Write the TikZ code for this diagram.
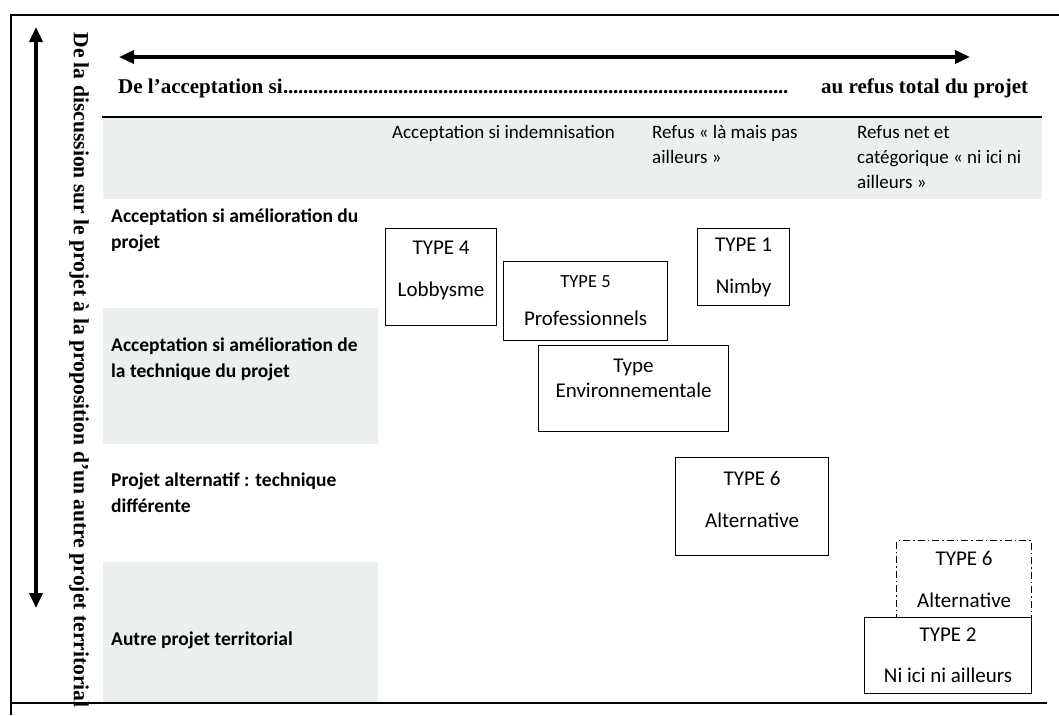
\documentclass[tikz,border=0pt]{standalone}
\usepackage{fontspec}
\setmainfont{Carlito}
\newfontfamily\titlefont{Liberation Serif}
\usetikzlibrary{arrows.meta}
\definecolor{band}{RGB}{236,239,240}
\begin{document}
\begin{tikzpicture}[x=1pt,y=-1pt,
  frameline/.style={line width=1.8pt},
  rule/.style={line width=1.3pt},
  bigarrow/.style={line width=3.6pt,{Triangle[length=15pt,width=13pt]}-{Triangle[length=15pt,width=13pt]}},
  serifb/.style={font=\titlefont\bfseries\fontsize{21}{25}\selectfont,inner sep=0pt},
  rowlab/.style={anchor=base west,align=left,inner sep=0pt,font=\bfseries\fontsize{19.5}{26}\selectfont},
  collab/.style={anchor=base west,align=left,inner sep=0pt,font=\fontsize{19}{25}\selectfont},
  tbox/.style={draw,line width=1.1pt,align=center,inner sep=0pt,anchor=north west,font=\fontsize{21}{24}\selectfont},
  dashbox/.style={tbox,dash pattern=on 7pt off 3pt on 1.5pt off 3pt},
]
\useasboundingbox (0,0) rectangle (1059,715);
% grey bands
\fill[band] (103,118) rectangle (1042,199);
\fill[band] (103,308) rectangle (378,444);
\fill[band] (103,562) rectangle (378,702);
% frame and rules
\draw[frameline] (1059,15) -- (11,15) -- (11,715);
\draw[rule] (102,117) -- (1042,117);
\draw[rule] (11,703) -- (1047,703);
% arrows
\coordinate (vtop) at (36,27);
\coordinate (vbot) at (36,608);
\coordinate (hleft) at (119,57);
\coordinate (hright) at (970,57);
\draw[bigarrow] (vtop) -- (vbot);
\draw[bigarrow] (hleft) -- (hright);
% titles
\node[serifb,anchor=base west] (ttl) at (118,93) {De l’acceptation si};
\node[serifb,anchor=base west] (dots) at (283,93) {\hbox to 505pt{\xleaders\hbox to 5pt{\hss.\hss}\hfill}};
\node[serifb,anchor=base west] (ttr) at (821,93) {au refus total du projet};
\node[serifb,rotate=-90,font=\titlefont\bfseries\fontsize{21.6}{25}\selectfont] (vt) at (79,370) {De la discussion sur le projet à la proposition d’un autre projet territorial};
% column headers (base = last line)
\node[collab] (c1) at (392,138) {Acceptation si indemnisation};
\node[collab] (c2) at (652,163) {Refus «~là mais pas\\ailleurs~»};
\node[collab] (c3) at (857,188) {Refus net et\\catégorique «~ni ici ni\\ailleurs~»};
% row labels (base = last line)
\node[rowlab] (r1) at (111,248) {Acceptation si amélioration du\\projet};
\node[rowlab] (r2) at (111,377) {Acceptation si amélioration de\\la technique du projet};
\node[rowlab] (r3) at (111,512) {Projet alternatif : technique\\différente};
\node[rowlab] (r4) at (111,645) {Autre projet territorial};
% boxes
\node[tbox,minimum width=111,minimum height=97,text depth=17pt] (t4) at (385,228) {TYPE 4\\[18pt]Lobbysme};
\node[tbox,minimum width=164,minimum height=79] (t5) at (503,261) {{\fontsize{18.5}{20}\selectfont TYPE 5}\\[14pt]Professionnels};
\node[tbox,minimum width=92,minimum height=77] (t1) at (697,228) {TYPE 1\\[18pt]Nimby};
\node[tbox,minimum width=190,minimum height=86,text depth=21pt] (env) at (538,345) {Type\\[1pt]Environnementale};
\node[tbox,minimum width=153,minimum height=98,text depth=14pt] (t6) at (675,457) {TYPE 6\\[18pt]Alternative};
\node[dashbox,minimum width=135,minimum height=77] (t6d) at (896,540) {TYPE 6\\[18pt]Alternative};
\node[tbox,minimum width=167,minimum height=76] (t2) at (864,617) {TYPE 2\\[17pt]Ni ici ni ailleurs};
\end{tikzpicture}
\end{document}
